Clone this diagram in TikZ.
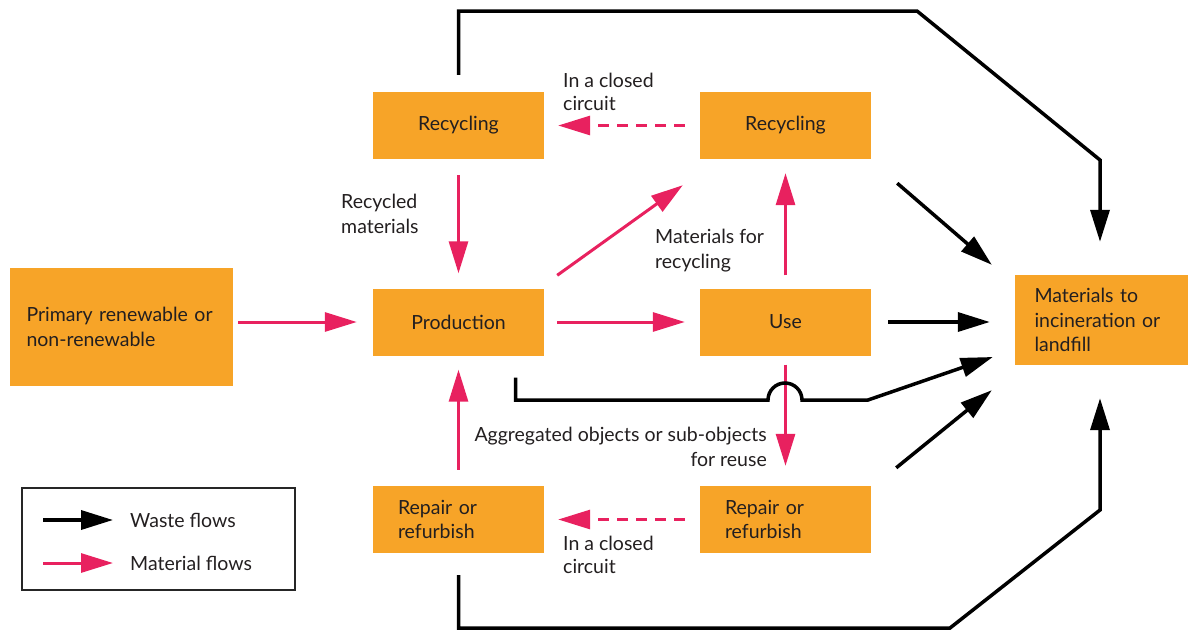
\documentclass[tikz,border=0pt]{standalone}
\usepackage{fontspec}
\setmainfont{Lato}
\usetikzlibrary{arrows.meta}
\definecolor{boxor}{HTML}{F7A428}
\definecolor{mpink}{HTML}{E8215F}
\definecolor{txt}{HTML}{231F20}
\begin{document}
\begin{tikzpicture}[x=1pt,y=-1pt,
  box/.style={fill=boxor, inner sep=0pt, minimum width=171pt, minimum height=67pt,
    font=\fontsize{19.5}{24.5}\selectfont, text=txt},
  lbl/.style={font=\fontsize{19.5}{24.5}\selectfont, text=txt, inner sep=0pt},
  pk/.style={draw=mpink, line width=3pt, -{Triangle[length=32pt,width=19pt]}},
  pkd/.style={pk, dash pattern=on 11pt off 8pt},
  bk/.style={draw=black, line width=3.5pt, line join=miter, -{Triangle[length=32pt,width=19pt]}}]
\useasboundingbox (0,0) rectangle (1188,637);

% boxes
\node[box, minimum width=223pt, minimum height=118pt, text width=190pt, align=left] (prim) at (121.5,327) {Primary renewable or\\non-renewable};
\node[box] (recL) at (458.5,125.5) {Recycling};
\node[box] (recR) at (785.5,125.5) {Recycling};
\node[box] (prod) at (458.5,322) {Production};
\node[box] (use) at (785.5,322) {Use};
\node[box, text width=121pt, align=left] (repL) at (458.5,519.5) {Repair or\\refurbish};
\node[box, text width=121pt, align=left] (repR) at (785.5,519.5) {Repair or\\refurbish};
\node[box, minimum width=173pt, minimum height=90pt, text width=134pt, align=left] (mat) at (1101.5,320) {Materials to\\incineration or\\landfill};

% material flows
\draw[pk, shorten <=5pt, shorten >=16pt] (prim.east |- prod.west) -- (prod.west);
\draw[pk, shorten <=13pt, shorten >=15pt] (prod.east) -- (use.west);
\draw[pk] ([shift={(13,-13)}]prod.north east) -- ([shift={(-17,26)}]recR.south west);
\draw[pk, shorten <=13pt, shorten >=14pt] (use.north) -- (recR.south);
\draw[pkd, shorten <=15pt, shorten >=14pt] (recR.west) -- (recL.east);
\draw[pk, shorten <=16pt, shorten >=15pt] (recL.south) -- (prod.north);
\draw[pk, shorten <=9pt, shorten >=20pt] (use.south) -- (repR.north);
\draw[pkd, shorten <=15pt, shorten >=14pt] (repR.west) -- (repL.east);
\draw[pk, shorten <=16pt, shorten >=14pt] (repL.north) -- (prod.south);

% waste flows
\coordinate (t1) at (917,11);
\coordinate (t2) at (1100,160);
\draw[bk, shorten >=33pt] ([yshift=17pt]recL.north) -- (recL.north |- t1) -- (t1) -- (t2) -- (t2 |- mat.north);
\coordinate (u1) at (950,628);
\coordinate (u2) at (1100,510);
\draw[bk, shorten >=33pt] ([yshift=-22pt]repL.south) -- (repL.south |- u1) -- (u1) -- (u2) -- (u2 |- mat.south);
\draw[bk] ([shift={(26,24)}]recR.south east) -- ([shift={(-23,-10)}]mat.north west);
\draw[bk, shorten <=17pt, shorten >=25pt] (use.east) -- (mat.west |- use.east);
\draw[bk] ([shift={(25,-18)}]repR.north east) -- ([shift={(-23,25)}]mat.south west);
\coordinate (b0) at ([shift={(57,22)}]prod.south);
\coordinate (b1) at (768,400);
\coordinate (b2) at (868,400);
\draw[bk] (b0) -- (b0 |- b1) -- (b1) arc[start angle=180, end angle=360, radius=17] -- (b2) -- ([shift={(-22,37)}]mat.west);

% labels
\node[lbl, anchor=north west, align=left, font=\fontsize{19.5}{22.5}\selectfont] (l1) at (563,73) {In a closed\\circuit};
\node[lbl, anchor=north west, align=left] (l2) at (341,194) {Recycled\\materials};
\node[lbl, anchor=north west, align=left] (l3) at (655,229) {Materials for\\recycling};
\node[lbl, anchor=north east, align=right] (l4) at (767,427) {Aggregated objects or sub-objects\\for reuse};
\node[lbl, anchor=north west, align=left, font=\fontsize{19.5}{22.5}\selectfont] (l5) at (563,536) {In a closed\\circuit};

% legend
\node[draw=black!85, line width=1.5pt, minimum width=273pt, minimum height=102pt, inner sep=0pt] (leg) at (158.5,539) {};
\coordinate (w0) at (43,520);
\coordinate (w1) at (113,520);
\coordinate (m0) at (43,563);
\coordinate (m1) at (113,563);
\draw[bk] (w0) -- (w1);
\draw[pk] (m0) -- (m1);
\node[lbl, anchor=base west] (lw) at (130,527) {Waste flows};
\node[lbl, anchor=base west] (lm) at (130,570) {Material flows};
\end{tikzpicture}
\end{document}
